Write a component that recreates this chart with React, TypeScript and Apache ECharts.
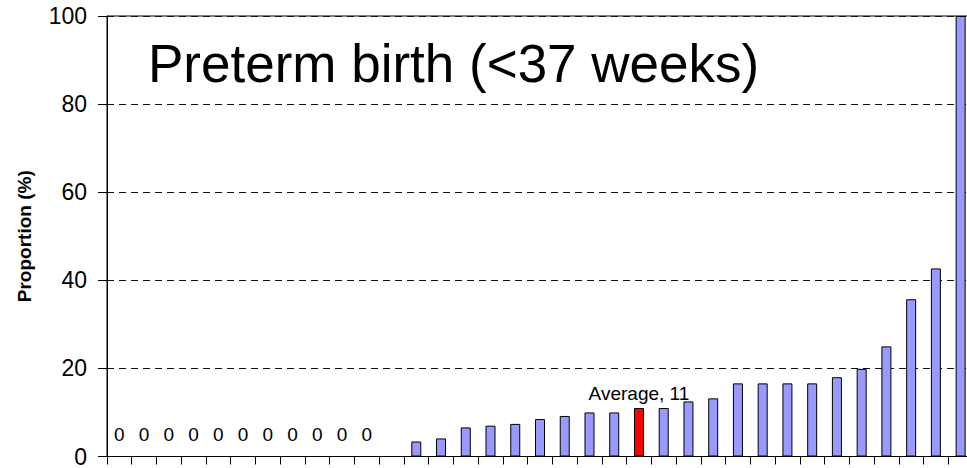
import React, { useEffect, useRef } from "react";
import * as echarts from "echarts";

const categories: string[] = Array.from({ length: 35 }, (_, i) => String(i + 1));
const values: (number | null)[] = [
  0, 0, 0, 0, 0, 0, 0, 0, 0, 0, 0, null,
  3.4, 4.1, 6.6, 7.0, 7.4, 8.5, 9.2, 10.0, 10.0, 11.0, 11.0, 12.5, 13.2,
  16.6, 16.6, 16.6, 16.6, 18.0, 19.9, 25.0, 35.7, 42.7, 100,
];
const averageIndex = 21;
const averageLabel = "Average, 11";
const titleText = "Preterm birth (<37 weeks)";
const yAxisName = "Proportion (%)";
const yTicks = { min: 0, max: 100, interval: 20 };

const FONT = "'Liberation Sans', Arial, Helvetica, sans-serif";

export default function App() {
  const ref = useRef<HTMLDivElement>(null);
  useEffect(() => {
    if (!ref.current) return;
    const chart = echarts.init(ref.current, undefined, { renderer: "svg" });
    const data = values.map((v, i) => {
      if (v === null) return null;
      if (i === averageIndex) {
        return {
          value: v,
          itemStyle: { color: "#FF0000" },
          label: {
            show: true,
            position: "top",
            distance: 5,
            formatter: averageLabel,
            fontSize: 19,
            color: "#000",
            fontFamily: FONT,
          },
        };
      }
      if (v === 0) {
        return {
          value: v,
          itemStyle: { borderWidth: 0 },
          label: {
            show: true,
            position: "top",
            distance: 13,
            formatter: "0",
            fontSize: 19,
            color: "#000",
            fontFamily: FONT,
          },
        };
      }
      return v;
    });
    chart.setOption({
      animation: false,
      backgroundColor: "#fff",
      textStyle: { fontFamily: FONT },
      grid: {
        left: 107,
        top: 16,
        right: 0,
        bottom: 11,
        show: true,
        borderColor: "#000",
        borderWidth: 1,
        containLabel: false,
      },
      graphic: [
        {
          type: "text",
          x: 148,
          y: 63.5,
          style: {
            text: titleText,
            fontSize: 53,
            fontFamily: FONT,
            fill: "#000",
            verticalAlign: "middle",
            align: "left",
          },
        },
      ],
      xAxis: {
        type: "category",
        data: categories,
        axisLine: { show: true, lineStyle: { color: "#000", width: 1 } },
        axisTick: { show: true, length: 8, interval: 0, lineStyle: { color: "#000" } },
        axisLabel: { show: false },
        splitLine: { show: false },
      },
      yAxis: {
        type: "value",
        min: yTicks.min,
        max: yTicks.max,
        interval: yTicks.interval,
        name: yAxisName,
        nameLocation: "middle",
        nameGap: 73,
        nameTextStyle: { fontSize: 19, fontWeight: "bold", color: "#000", fontFamily: FONT },
        axisLine: { show: true, lineStyle: { color: "#000", width: 1 } },
        axisTick: { show: true, length: 9, lineStyle: { color: "#000" } },
        axisLabel: { fontSize: 23, color: "#000", margin: 20, fontFamily: FONT },
        splitLine: { show: true, lineStyle: { color: "#111", type: [7, 5], width: 1 } },
      },
      series: [
        {
          type: "bar",
          data,
          barWidth: 10,
          itemStyle: { color: "#9999FF", borderColor: "#000", borderWidth: 1 },
        },
      ],
    });
    return () => chart.dispose();
  }, []);
  return (
    <div
      style={{ position: "fixed", left: 0, top: 0, width: 967, height: 468, overflow: "hidden", background: "#fff" }}
    >
      <div ref={ref} style={{ width: 973, height: 468 }} />
    </div>
  );
}
